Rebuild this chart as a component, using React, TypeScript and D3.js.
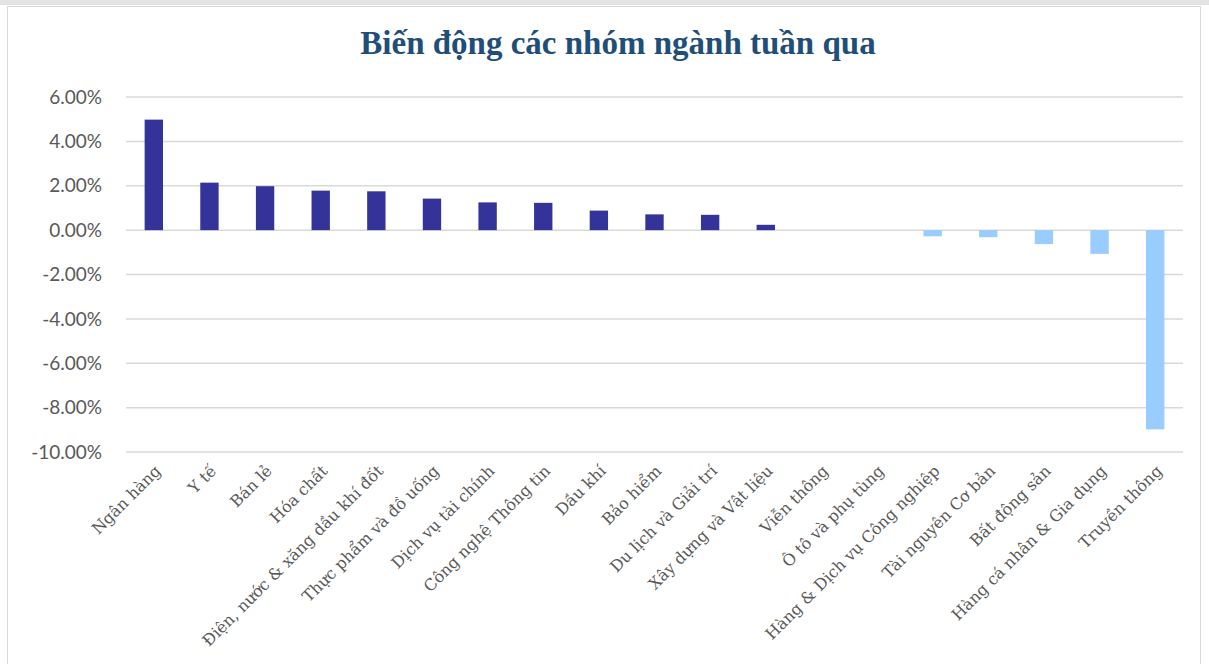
import React from "react";
import * as d3 from "d3";

const categories = [
  "Ngân hàng", "Y tế", "Bán lẻ", "Hóa chất", "Điện, nước & xăng dầu khí đốt",
  "Thực phẩm và đồ uống", "Dịch vụ tài chính", "Công nghệ Thông tin", "Dầu khí",
  "Bảo hiểm", "Du lịch và Giải trí", "Xây dựng và Vật liệu", "Viễn thông",
  "Ô tô và phụ tùng", "Hàng & Dịch vụ Công nghiệp", "Tài nguyên Cơ bản",
  "Bất động sản", "Hàng cá nhân & Gia dụng", "Truyền thông",
];
const values = [
  0.0498, 0.0214, 0.0198, 0.0178, 0.0175, 0.0142, 0.0125, 0.0123, 0.0088,
  0.0071, 0.0069, 0.0024, 0, 0, -0.0028, -0.0032, -0.0063, -0.0107, -0.0898,
];
const yTicks = [0.06, 0.04, 0.02, 0, -0.02, -0.04, -0.06, -0.08, -0.1];
const title = "Biến động các nhóm ngành tuần qua";

const W = 1209, H = 664;
const left = 126, right = 1183, top = 97, bottom = 452;

export default function App() {
  const x = d3.scaleBand<string>().domain(categories).range([left, right]).paddingInner(0.67).paddingOuter(0.335);
  const y = d3.scaleLinear().domain([-0.1, 0.06]).range([bottom, top]);
  const fmt = (t: number) => d3.format(".2f")(t * 100).replace("−", "-") + "%";
  const band = d3.scaleBand<string>().domain(categories).range([left, right]);
  return (
    <div style={{ position: "absolute", left: 0, top: 0 }}>
      <svg width={W} height={H} style={{ display: "block", background: "#fff" }}>
        <rect x={0} y={0} width={W} height={5} fill="#E3E3E3" />
        <rect x={7.5} y={6.5} width={1193} height={700} fill="#fff" stroke="#D9D9D9" strokeWidth={1} />
        <text x={618} y={54} textAnchor="middle" fontFamily="'Liberation Serif', serif" fontWeight="bold" fontSize={33} fill="#1F4E79">{title}</text>
        {yTicks.map((t) => (
          <g key={t}>
            <line x1={left} x2={right} y1={y(t)} y2={y(t)} stroke="#D9D9D9" strokeWidth={1.5} />
            <text x={102} y={y(t)} dy="0.35em" textAnchor="end" fontFamily="Lato, 'Open Sans', sans-serif" fontSize={19} fill="#595959">{fmt(t)}</text>
          </g>
        ))}
        {categories.map((c, i) => {
          const v = values[i];
          if (v === 0) return null;
          return (
            <rect key={c} x={x(c)} width={x.bandwidth()} y={y(Math.max(0, v))} height={Math.abs(y(v) - y(0))}
              fill={v >= 0 ? "#333399" : "#99CCFF"} />
          );
        })}
        {categories.map((c) => {
          const cx = (band(c) as number) + band.bandwidth() / 2 + 4;
          return (
            <text key={c} transform={`translate(${cx},${bottom + 16}) rotate(-45)`} textAnchor="end" dy="0.35em"
              fontFamily="'DejaVu Serif', serif" fontSize={16} fill="#595959">{c}</text>
          );
        })}
      </svg>
    </div>
  );
}
